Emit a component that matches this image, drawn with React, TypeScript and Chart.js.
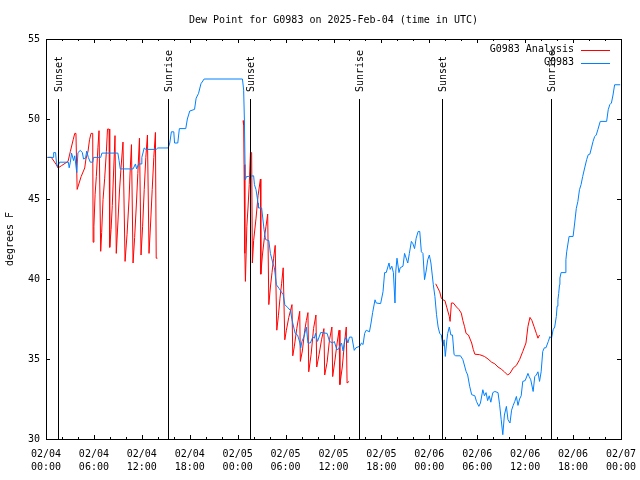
import React, { useEffect, useRef } from "react";
import { Chart, registerables } from "chart.js";

Chart.register(...registerables);

const TITLE = "Dew Point for G0983 on 2025-Feb-04 (time in UTC)";
const Y_TITLE = "degrees F";
const SERIES_NAMES = ["G0983 Analysis", "G0983"];
const SERIES_COLORS = ["#ff0000", "#0080ff"];
const FONT = "'DejaVu Sans Mono', 'Liberation Mono', monospace";

// hours since 2025-02-04 00:00 UTC
const X_MIN = 0;
const X_MAX = 72;
const xTickHours = [0, 6, 12, 18, 24, 30, 36, 42, 48, 54, 60, 66, 72];
const xTickDates = ["02/04", "02/04", "02/04", "02/04", "02/05", "02/05", "02/05", "02/05", "02/06", "02/06", "02/06", "02/06", "02/07"];
const xTickTimes = ["00:00", "06:00", "12:00", "18:00", "00:00", "06:00", "12:00", "18:00", "00:00", "06:00", "12:00", "18:00", "00:00"];
const yTicks = [30, 35, 40, 45, 50, 55];

const sunEventNames = ["Sunset", "Sunrise", "Sunset", "Sunrise", "Sunset", "Sunrise"];
const sunEventHours = [1.5, 15.28, 25.54, 39.19, 49.59, 63.24];

// G0983 Analysis (red), three segments [hour, degF]
const analysisSeg1: [number, number][] = [
  [0.18, 47.6], [0.67, 47.6], [1.3, 47.14], [1.5, 46.94], [1.93, 47.08], [2.76, 47.35], [3.05, 47.97],
  [3.4, 48.7], [3.6, 49.1], [3.75, 49.1], [3.9, 45.6], [4.4, 46.4], [4.85, 46.94], [5.0, 47.5],
  [5.26, 47.97], [5.45, 48.7], [5.64, 49.1], [5.85, 49.1], [5.9, 42.3], [6.0, 43.3], [6.15, 45.3],
  [6.3, 46.4], [6.5, 48.2], [6.64, 49.27], [6.85, 41.73], [6.97, 42.9], [7.14, 44.96], [7.35, 46.3],
  [7.56, 47.97], [7.7, 49.37], [7.9, 49.37], [7.98, 41.98], [8.15, 43.1], [8.3, 44.6], [8.45, 46.5],
  [8.64, 48.96], [8.8, 41.6], [9.0, 43.5], [9.2, 45.5], [9.4, 47.0], [9.64, 48.56], [9.9, 41.1],
  [10.15, 42.8], [10.4, 45.0], [10.55, 46.9], [10.7, 48.4], [10.9, 41.0], [11.1, 42.6], [11.3, 44.5],
  [11.5, 46.6], [11.7, 48.8], [11.9, 41.5], [12.1, 43.3], [12.3, 45.6], [12.5, 47.6], [12.7, 49.0],
  [12.9, 41.6], [13.1, 43.5], [13.3, 45.6], [13.5, 47.6], [13.7, 49.16], [13.8, 41.3], [13.95, 41.3],
];
const analysisSeg2: [number, number][] = [
  [24.67, 49.9], [24.75, 49.6], [24.8, 47.15], [24.9, 41.6], [24.97, 39.85], [25.15, 43.3], [25.3, 44.5],
  [25.45, 45.9], [25.6, 47.9], [25.75, 47.9], [25.84, 41.0], [26.0, 42.4], [26.3, 43.8], [26.55, 45.2],
  [26.85, 46.25], [26.9, 40.3], [27.1, 41.5], [27.35, 42.6], [27.55, 43.3], [27.76, 44.06], [27.9, 38.4],
  [28.1, 39.5], [28.3, 40.4], [28.5, 41.3], [28.7, 42.1], [28.9, 36.8], [29.1, 37.7], [29.3, 38.8],
  [29.5, 39.7], [29.7, 40.7], [29.9, 36.2], [30.1, 36.8], [30.4, 37.6], [30.6, 38.0], [30.8, 38.4],
  [30.9, 35.2], [31.1, 35.8], [31.4, 36.9], [31.6, 37.5], [31.77, 37.98], [31.85, 34.85], [32.1, 35.5],
  [32.4, 36.8], [32.6, 37.4], [32.8, 37.9], [32.9, 34.2], [33.2, 35.3], [33.5, 36.9], [33.8, 37.75],
  [33.9, 34.5], [34.2, 35.3], [34.5, 36.2], [34.8, 36.9], [34.9, 34.0], [35.2, 34.8], [35.5, 36.2],
  [35.8, 37.0], [35.9, 33.9], [36.2, 35.0], [36.45, 36.0], [36.7, 36.8], [36.8, 33.4], [37.1, 34.5],
  [37.35, 35.9], [37.6, 37.0], [37.7, 33.5], [37.95, 33.6],
];
const analysisSeg3: [number, number][] = [
  [48.8, 39.7], [49.0, 39.5], [49.3, 39.2], [49.5, 38.8], [49.7, 38.7], [49.95, 38.65], [50.2, 38.2],
  [50.5, 37.66], [50.6, 37.35], [50.76, 38.5], [51.0, 38.5], [51.4, 38.25], [51.7, 38.1], [52.0, 37.87],
  [52.2, 37.4], [52.4, 37.04], [52.6, 36.6], [52.9, 36.5], [53.3, 36.0], [53.5, 35.6], [53.7, 35.3],
  [54.3, 35.27], [54.9, 35.16], [55.35, 35.0], [55.8, 34.8], [56.2, 34.7], [56.6, 34.5], [57.0, 34.37],
  [57.4, 34.2], [57.8, 34.0], [58.1, 34.1], [58.5, 34.44], [58.9, 34.6], [59.3, 34.96], [59.7, 35.47],
  [60.1, 36.0], [60.35, 37.04], [60.6, 37.6], [60.85, 37.4], [61.1, 37.04], [61.4, 36.6], [61.6, 36.3],
  [61.8, 36.5],
];

// G0983 observations (blue) [hour, degF]
const observed: [number, number][] = [
  [0.2, 47.6], [0.9, 47.6], [0.96, 47.9], [1.2, 47.9], [1.3, 47.3], [1.46, 47.0], [1.7, 47.3], [2.8, 47.3],
  [2.9, 46.95], [3.05, 47.3], [3.2, 47.87], [3.45, 47.4], [3.6, 47.7], [3.85, 46.65], [4.0, 47.9],
  [4.3, 48.04], [4.55, 47.9], [4.7, 47.5], [4.95, 47.55], [5.1, 48.0], [5.3, 47.6], [5.55, 47.3],
  [5.85, 47.3], [5.95, 47.6], [6.85, 47.6], [7.0, 47.87], [9.0, 47.87], [9.15, 47.4], [9.3, 46.88],
  [10.9, 46.88], [11.2, 47.19], [11.35, 46.88], [11.6, 47.19], [11.9, 47.19], [12.0, 47.6], [12.3, 48.19],
  [12.5, 48.1], [13.8, 48.1], [14.0, 48.19], [15.3, 48.19], [15.5, 48.5], [15.7, 49.2], [16.0, 49.2],
  [16.1, 48.5], [16.5, 48.5], [16.7, 49.4], [17.5, 49.4], [17.7, 50.0], [18.0, 50.5], [18.6, 50.6],
  [18.8, 51.3], [19.1, 51.6], [19.4, 52.2], [19.8, 52.5], [24.6, 52.5], [24.75, 51.8], [24.85, 49.75],
  [24.95, 46.2], [25.1, 46.4], [26.0, 46.45], [26.1, 45.9], [26.3, 45.58], [26.55, 44.75], [26.6, 44.44],
  [27.0, 44.44], [27.1, 44.0], [27.3, 43.1], [27.5, 42.46], [27.9, 42.4], [28.1, 41.6], [28.4, 41.0],
  [28.6, 40.7], [28.85, 39.64], [29.2, 39.4], [29.7, 39.02], [29.9, 38.4], [30.3, 38.2], [30.6, 38.04],
  [30.8, 37.46], [31.2, 36.6], [31.5, 36.5], [31.8, 36.0], [31.9, 35.7], [32.05, 36.1], [32.3, 36.4],
  [32.6, 37.0], [32.8, 36.0], [33.1, 36.0], [33.4, 36.37], [33.6, 36.3], [33.75, 36.6], [34.0, 36.1],
  [34.4, 36.66], [35.2, 36.6], [35.5, 36.1], [35.9, 36.0], [36.1, 36.1], [36.4, 35.6], [36.6, 35.6],
  [37.0, 36.0], [37.2, 35.5], [37.4, 36.2], [37.6, 36.37], [37.8, 36.0], [38.0, 36.37], [38.3, 36.37],
  [38.6, 35.54], [38.8, 35.7], [39.3, 35.8], [39.5, 36.0], [39.7, 35.9], [39.9, 36.6], [40.1, 36.8],
  [40.5, 36.7], [40.7, 37.25], [40.9, 37.9], [41.2, 38.7], [41.35, 38.5], [41.9, 38.46], [42.2, 39.2],
  [42.4, 40.4], [42.6, 40.4], [42.95, 41.0], [43.1, 40.6], [43.3, 40.8], [43.5, 40.4], [43.7, 38.5],
  [43.8, 40.5], [43.95, 41.3], [44.2, 40.4], [44.35, 40.7], [44.7, 40.8], [44.9, 41.6], [45.3, 41.0],
  [45.5, 41.6], [45.75, 42.35], [45.95, 42.2], [46.15, 41.9], [46.35, 42.55], [46.6, 42.97], [46.8, 42.97],
  [47.0, 41.7], [47.2, 41.6], [47.4, 39.96], [47.6, 40.5], [47.8, 41.2], [48.0, 41.5], [48.2, 41.0],
  [48.5, 39.64], [48.7, 38.9], [48.9, 37.77], [49.1, 37.0], [49.3, 36.6], [49.5, 36.5], [49.7, 35.8],
  [49.85, 36.2], [50.0, 35.16], [50.2, 36.2], [50.3, 36.6], [50.5, 37.0], [50.7, 36.5], [50.9, 36.5],
  [51.1, 35.27], [51.3, 35.2], [51.9, 35.2], [52.2, 34.96], [52.6, 34.23], [52.8, 34.0], [53.05, 33.3],
  [53.3, 32.77], [53.7, 32.7], [53.9, 32.35], [54.2, 32.04], [54.4, 32.25], [54.7, 33.08], [54.9, 32.7],
  [55.1, 32.9], [55.3, 32.4], [55.5, 32.7], [55.7, 32.3], [55.95, 32.9], [56.2, 32.97], [56.6, 32.9],
  [56.8, 32.14], [57.0, 31.2], [57.2, 30.27], [57.4, 31.5], [57.65, 32.04], [57.85, 31.2], [58.1, 31.0],
  [58.3, 31.8], [58.5, 32.1], [58.7, 32.35], [58.9, 32.66], [59.1, 32.1], [59.3, 32.5], [59.5, 32.7],
  [59.7, 33.6], [60.0, 33.65], [60.35, 34.1], [60.5, 33.9], [60.7, 33.7], [61.0, 32.97], [61.2, 33.9],
  [61.4, 34.0], [61.6, 34.2], [61.8, 33.6], [62.0, 34.2], [62.2, 35.47], [62.4, 35.7], [62.6, 35.7],
  [62.9, 36.1], [63.1, 36.4], [63.3, 36.3], [63.5, 36.83], [63.7, 37.0], [63.9, 37.66], [64.0, 38.3],
  [64.1, 38.7], [64.2, 39.1], [64.3, 39.64], [64.35, 40.06], [64.5, 40.4], [65.0, 40.4], [65.1, 41.2],
  [65.2, 41.7], [65.5, 42.66], [66.0, 42.66], [66.2, 43.5], [66.4, 44.4], [66.6, 44.85], [66.8, 45.58],
  [67.0, 45.9], [67.2, 46.4], [67.45, 46.94], [67.7, 47.46], [67.9, 47.77], [68.1, 47.8], [68.3, 48.19],
  [68.5, 48.6], [68.7, 48.9], [68.9, 49.0], [69.1, 49.33], [69.4, 49.85], [70.2, 49.85], [70.4, 50.58],
  [70.6, 50.9], [70.8, 51.0], [71.0, 51.5], [71.2, 52.14], [71.9, 52.14],
];

type Pt = { x: number; y: number | null };
const toPts = (arr: [number, number][]): Pt[] => arr.map(([x, y]) => ({ x, y }));
const gapAfter = (arr: [number, number][]): Pt => ({ x: arr[arr.length - 1][0] + 0.01, y: null });

const decorPlugin = {
  id: "gnuplotDecor",
  afterDatasetsDraw(chart: any) {
    const { ctx, chartArea, scales } = chart;
    const { left, right, top, bottom } = chartArea;
    const xs = scales.x;
    const ys = scales.y;
    ctx.save();
    ctx.lineWidth = 1;
    ctx.strokeStyle = "#000";
    ctx.fillStyle = "#000";
    ctx.font = `10px ${FONT}`;

    // sunrise / sunset markers
    sunEventHours.forEach((h, i) => {
      const px = Math.round(xs.getPixelForValue(h)) + 0.5;
      ctx.beginPath();
      ctx.moveTo(px, top + 60);
      ctx.lineTo(px, bottom);
      ctx.stroke();
      ctx.save();
      ctx.translate(px + 0.5, top + 53);
      ctx.rotate(-Math.PI / 2);
      ctx.textAlign = "left";
      ctx.textBaseline = "middle";
      ctx.fillText(sunEventNames[i], 0, 0);
      ctx.restore();
    });

    // border box
    ctx.strokeRect(Math.round(left) + 0.5, Math.round(top) + 0.5, Math.round(right - left), Math.round(bottom - top));

    // inward ticks
    ctx.beginPath();
    for (let h = X_MIN; h <= X_MAX; h += 2) {
      const px = Math.round(xs.getPixelForValue(h)) + 0.5;
      const len = h % 6 === 0 ? 4 : 2;
      ctx.moveTo(px, bottom);
      ctx.lineTo(px, bottom - len);
      ctx.moveTo(px, top);
      ctx.lineTo(px, top + len);
    }
    yTicks.forEach((v) => {
      const py = Math.round(ys.getPixelForValue(v)) + 0.5;
      ctx.moveTo(left, py);
      ctx.lineTo(left + 4, py);
      ctx.moveTo(right, py);
      ctx.lineTo(right - 4, py);
    });
    ctx.stroke();

    // legend
    ctx.textAlign = "right";
    ctx.textBaseline = "middle";
    SERIES_NAMES.forEach((name, i) => {
      const ly = top + 10.5 + i * 13;
      ctx.fillStyle = "#000";
      ctx.fillText(name, right - 47, ly);
      ctx.strokeStyle = SERIES_COLORS[i];
      ctx.beginPath();
      ctx.moveTo(right - 40, Math.round(ly) + 0.5);
      ctx.lineTo(right - 11, Math.round(ly) + 0.5);
      ctx.stroke();
    });

    // title
    ctx.fillStyle = "#000";
    ctx.textAlign = "center";
    ctx.textBaseline = "middle";
    ctx.fillText(TITLE, (left + right) / 2, 20);

    // y title
    ctx.save();
    ctx.translate(10, (top + bottom) / 2);
    ctx.rotate(-Math.PI / 2);
    ctx.fillText(Y_TITLE, 0, 0);
    ctx.restore();

    ctx.restore();
  },
};

export default function App() {
  const ref = useRef<HTMLCanvasElement | null>(null);

  useEffect(() => {
    document.body.style.margin = "0";
    const canvas = ref.current;
    if (!canvas) return;
    const analysisData: Pt[] = [
      ...toPts(analysisSeg1),
      gapAfter(analysisSeg1),
      ...toPts(analysisSeg2),
      gapAfter(analysisSeg2),
      ...toPts(analysisSeg3),
    ];
    const chart = new Chart(canvas, {
      type: "line",
      data: {
        datasets: [
          {
            label: SERIES_NAMES[0],
            data: analysisData as any,
            borderColor: SERIES_COLORS[0],
            borderWidth: 1,
            pointRadius: 0,
            tension: 0,
            spanGaps: false,
            order: 2,
          },
          {
            label: SERIES_NAMES[1],
            data: toPts(observed) as any,
            borderColor: SERIES_COLORS[1],
            borderWidth: 1,
            pointRadius: 0,
            tension: 0,
            order: 1,
          },
        ],
      },
      options: {
        animation: false,
        responsive: false,
        maintainAspectRatio: false,
        devicePixelRatio: 1,
        layout: { padding: { top: 39, right: 19, left: 0, bottom: 0 } },
        plugins: {
          legend: { display: false },
          title: { display: false },
          tooltip: { enabled: false },
        },
        scales: {
          x: {
            type: "linear",
            min: X_MIN,
            max: X_MAX,
            grid: { display: false, drawTicks: false },
            border: { display: false },
            afterBuildTicks: (scale: any) => {
              scale.ticks = xTickHours.map((v) => ({ value: v }));
            },
            afterFit: (scale: any) => {
              scale.height = 41;
              scale.paddingLeft = 0;
              scale.paddingRight = 0;
            },
            ticks: {
              autoSkip: false,
              maxRotation: 0,
              minRotation: 0,
              padding: 9,
              color: "#000",
              font: { family: FONT, size: 10, lineHeight: 1.27 },
              callback: (value: any) => {
                const i = xTickHours.indexOf(Number(value));
                return i >= 0 ? [xTickDates[i], xTickTimes[i]] : "";
              },
            },
          },
          y: {
            type: "linear",
            min: 30,
            max: 55,
            grid: { display: false, drawTicks: false },
            border: { display: false },
            afterBuildTicks: (scale: any) => {
              scale.ticks = yTicks.map((v) => ({ value: v }));
            },
            afterFit: (scale: any) => {
              scale.width = 46;
              scale.paddingTop = 0;
              scale.paddingBottom = 0;
            },
            ticks: {
              padding: 6,
              color: "#000",
              font: { family: FONT, size: 10 },
              callback: (value: any) => String(value),
            },
          },
        },
      },
      plugins: [decorPlugin],
    });
    return () => chart.destroy();
  }, []);

  return (
    <div style={{ width: 640, height: 480, background: "#fff" }}>
      <canvas ref={ref} width={640} height={480} style={{ display: "block" }} />
    </div>
  );
}
